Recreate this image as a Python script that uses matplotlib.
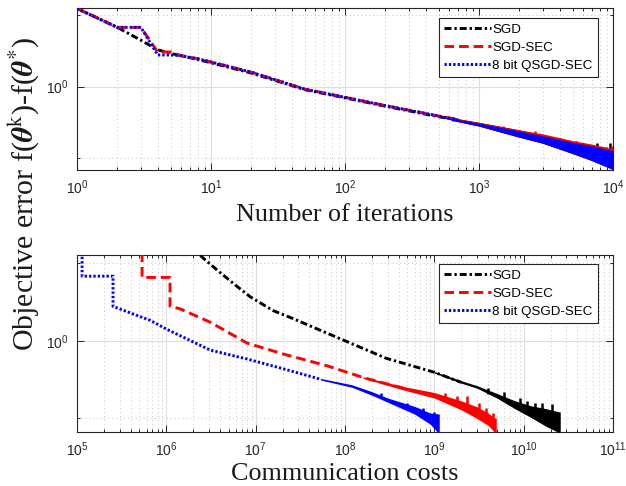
import math
import matplotlib
matplotlib.use("Agg")
import matplotlib.pyplot as plt
from matplotlib.ticker import FixedLocator, FuncFormatter, NullFormatter
from matplotlib.lines import Line2D

plt.rcParams['font.family'] = ['Liberation Sans', 'DejaVu Sans']
plt.rcParams['mathtext.fontset'] = 'custom'
plt.rcParams['mathtext.rm'] = 'Liberation Sans'
plt.rcParams['mathtext.it'] = 'Liberation Sans:italic'
plt.rcParams['mathtext.bf'] = 'Liberation Sans:bold'

# ---------------- data: top panel (iterations) ----------------
labels = ["SGD", "SGD-SEC", "8 bit QSGD-SEC"]
colors = ["black", "red", "blue"]

it_sgd = [1, 2, 3, 4, 5, 6, 8, 10, 20, 50, 100, 200, 500, 700]
val_sgd = [2.14, 1.78, 1.57, 1.43, 1.38, 1.35, 1.30, 1.26, 1.14, 0.97, 0.895, 0.825, 0.745, 0.72]
it_sec = [1, 2, 3, 4, 5, 6, 8, 10, 20, 50, 100, 200, 500, 700]
val_sec = [2.14, 1.78, 1.78, 1.40, 1.40, 1.35, 1.31, 1.27, 1.15, 0.975, 0.90, 0.83, 0.75, 0.725]
it_q = [1, 2, 3, 4, 5, 6, 8, 10, 20, 50, 100, 200, 500, 700]
val_q = [2.14, 1.78, 1.78, 1.36, 1.36, 1.35, 1.31, 1.27, 1.15, 0.975, 0.90, 0.83, 0.75, 0.72]

band_it = [500, 700, 1000, 2000, 3000, 5000, 7000, 10000]
band_lo = [0.745, 0.71, 0.68, 0.61, 0.575, 0.52, 0.485, 0.445]
sgd_hi = [0.755, 0.73, 0.705, 0.655, 0.625, 0.585, 0.565, 0.54]
sec_hi = [0.755, 0.73, 0.705, 0.655, 0.63, 0.59, 0.57, 0.545]
q_hi = [0.752, 0.725, 0.70, 0.648, 0.618, 0.58, 0.56, 0.535]

tspk_it_sgd = [640, 1900, 3000, 4400, 5300, 6400, 7600, 8800, 9500]
tspk_lo_sgd = [0.715, 0.64, 0.61, 0.57, 0.565, 0.55, 0.545, 0.53, 0.53]
tspk_hi_sgd = [0.74, 0.65, 0.625, 0.585, 0.585, 0.565, 0.575, 0.555, 0.575]
tspk_it_sec = [1500, 2600, 4000, 6000, 9800]
tspk_lo_sec = [0.66, 0.62, 0.585, 0.555, 0.53]
tspk_hi_sec = [0.68, 0.645, 0.605, 0.575, 0.56]

# ---------------- data: bottom panel (communication costs) ----------------
c_sgd = [2.4e6, 3.7e6, 5.6e6, 8.7e6, 1.56e7, 2.6e7, 6.3e7, 1e8, 2.9e8, 1e9, 2.0e9]
v_sgd = [2.14, 1.88, 1.67, 1.48, 1.31, 1.22, 1.07, 1.0, 0.855, 0.755, 0.69]
cb_sgd = [1e9, 2e9, 3e9, 5e9, 8e9, 1.2e10, 1.8e10, 2.5e10]
lo_sgd = [0.75, 0.685, 0.655, 0.60, 0.545, 0.505, 0.465, 0.44]
hi_sgd = [0.76, 0.70, 0.67, 0.625, 0.585, 0.56, 0.545, 0.53]
bspk_c_sgd = [4e9, 6e9, 9e9, 1.1e10, 1.35e10, 1.6e10, 2.1e10]
bspk_lo_sgd = [0.62, 0.60, 0.57, 0.55, 0.54, 0.53, 0.52]
bspk_hi_sgd = [0.655, 0.635, 0.60, 0.585, 0.575, 0.575, 0.57]

c_sec = [5.35e5, 5.35e5, 1.1e6, 1.1e6, 1.42e6, 3.1e6, 8e6, 2e7, 6.3e7, 1.6e8, 4.5e8]
v_sec = [2.2, 1.76, 1.76, 1.36, 1.33, 1.18, 0.98, 0.89, 0.80, 0.72, 0.655]
cb_sec = [1.6e8, 4.5e8, 1e9, 2e9, 3e9, 4e9, 4.8e9]
lo_sec = [0.715, 0.645, 0.60, 0.54, 0.50, 0.47, 0.44]
hi_sec = [0.725, 0.665, 0.63, 0.585, 0.555, 0.525, 0.50]
bspk_c_sec = [1.3e9, 1.8e9, 2.3e9, 3.2e9, 3.8e9, 4.5e9]
bspk_lo_sec = [0.60, 0.58, 0.57, 0.545, 0.52, 0.50]
bspk_hi_sec = [0.625, 0.61, 0.61, 0.575, 0.55, 0.525]

c_q = [1.14e5, 1.14e5, 2.53e5, 2.53e5, 4e5, 6.6e5, 1e6, 3.1e6, 8e6, 2e7, 5.3e7]
v_q = [2.2, 1.78, 1.78, 1.36, 1.28, 1.20, 1.11, 0.92, 0.85, 0.78, 0.71]
cb_q = [5.3e7, 1.2e8, 2e8, 3e8, 6e8, 9e8, 1.1e9]
lo_q = [0.705, 0.66, 0.615, 0.578, 0.52, 0.475, 0.44]
hi_q = [0.715, 0.675, 0.635, 0.60, 0.557, 0.525, 0.52]
bspk_c_q = [2.5e8, 5e8, 7.4e8, 1.0e9]
bspk_lo_q = [0.60, 0.55, 0.525, 0.50]
bspk_hi_q = [0.625, 0.575, 0.55, 0.53]

y_lim = (0.443, 2.15)
xticks_top = [1, 10, 100, 1000, 10000]
xticks_bot = [1e5, 1e6, 1e7, 1e8, 1e9, 1e10, 1e11]

# ---------------- style ----------------
LW = 2.1
SLW = 1.8
styles = [(0, (2.4, 1.0, 0.8, 1.0)), (0, (3.3, 1.7)), (0, (0.8, 0.7))]
AXC = '#262626'

fig = plt.figure(figsize=(6.26, 4.86), dpi=100)
ax1 = fig.add_axes([77/626, 1-170/486, 536/626, 162/486])
ax2 = fig.add_axes([77/626, 1-432/486, 536/626, 177/486])


def fmt(v, pos):
    e = int(round(math.log10(v)))
    return r'$\mathregular{10^{%d}}$' % e


def setup(ax, xticks):
    ax.set_xscale('log')
    ax.set_yscale('log')
    ax.set_xlim(xticks[0], xticks[-1])
    ax.set_ylim(*y_lim)
    ax.yaxis.set_major_locator(FixedLocator([1.0]))
    ax.yaxis.set_minor_locator(FixedLocator([0.5, 2.0]))
    ax.yaxis.set_major_formatter(FuncFormatter(fmt))
    ax.yaxis.set_minor_formatter(NullFormatter())
    ax.xaxis.set_major_locator(FixedLocator(xticks))
    minors = [m * 10**e for e in range(-1, 12) for m in range(2, 10)]
    minors = [m for m in minors if xticks[0] < m < xticks[-1]]
    ax.xaxis.set_minor_locator(FixedLocator(minors))
    ax.xaxis.set_major_formatter(FuncFormatter(fmt))
    ax.xaxis.set_minor_formatter(NullFormatter())
    ax.set_axisbelow(True)
    ax.grid(True, which='major', color='#dedede', lw=0.8, ls='-')
    ax.grid(True, which='minor', color='#c4c4c4', lw=0.7, ls=(0, (1, 3)))
    ax.tick_params(which='both', direction='in', top=True, right=True,
                   color=AXC, labelcolor=AXC, labelsize=10, width=0.7)
    ax.tick_params(which='major', length=5, pad=6)
    ax.tick_params(which='minor', length=2.5)
    for s in ax.spines.values():
        s.set_color(AXC)
        s.set_linewidth(0.8)


setup(ax1, xticks_top)
setup(ax2, xticks_bot)

# ---------------- top panel ----------------
mains_top = [(it_sgd, val_sgd), (it_sec, val_sec), (it_q, val_q)]
his_top = [sgd_hi, sec_hi, q_hi]
spikes_top = [(tspk_it_sgd, tspk_lo_sgd, tspk_hi_sgd),
              (tspk_it_sec, tspk_lo_sec, tspk_hi_sec), ([], [], [])]
for (x, y), hi, (sx, slo, shi), c, ls in zip(mains_top, his_top, spikes_top, colors, styles):
    ax1.fill_between(band_it, band_lo, hi, color=c, lw=0, zorder=3)
    ax1.plot(x, y, color=c, lw=LW, ls=ls, zorder=3)
    if sx:
        ax1.vlines(sx, slo, shi, color=c, lw=SLW, zorder=3)

# ---------------- bottom panel ----------------
mains_bot = [(c_sgd, v_sgd), (c_sec, v_sec), (c_q, v_q)]
bands_bot = [(cb_sgd, lo_sgd, hi_sgd), (cb_sec, lo_sec, hi_sec), (cb_q, lo_q, hi_q)]
spikes_bot = [(bspk_c_sgd, bspk_lo_sgd, bspk_hi_sgd), (bspk_c_sec, bspk_lo_sec, bspk_hi_sec),
              (bspk_c_q, bspk_lo_q, bspk_hi_q)]
for (x, y), (bx, blo, bhi), (sx, slo, shi), c, ls in zip(mains_bot, bands_bot, spikes_bot, colors, styles):
    ax2.plot(x, y, color=c, lw=LW, ls=ls, zorder=3)
    ax2.fill_between(bx, blo, bhi, color=c, lw=0, zorder=3)
    ax2.vlines(sx, slo, shi, color=c, lw=SLW, zorder=3)
    ax2.vlines([bx[-1]], [blo[-1]], [bhi[-1]], color=c, lw=SLW, zorder=3)

# ---------------- legends ----------------
handles = [Line2D([], [], color=c, lw=LW, ls=ls) for c, ls in zip(colors, styles)]
for ax, top in ((ax1, 1 - 10/162), (ax2, 1 - 9/177)):
    leg = ax.legend(handles, labels, loc='upper right', bbox_to_anchor=(521/536, top),
                    borderaxespad=0, fancybox=False, framealpha=1, edgecolor=AXC,
                    fontsize=9.6, handlelength=3.5, handletextpad=0.1,
                    labelspacing=0.42, borderpad=0.4)
    leg.get_frame().set_linewidth(0.8)

# ---------------- labels ----------------
serif = ['Liberation Serif', 'DejaVu Serif']
ax1.set_xlabel('Number of iterations', fontsize=18.8, family=serif, labelpad=5, color='#1a1a1a')
ax2.set_xlabel('Communication costs', fontsize=18.8, family=serif, labelpad=3, color='#1a1a1a')
fig.text(24/626, 1 - 194/486,
         r'Objective error f($\boldsymbol{\theta}^{\rm k}$)-f($\boldsymbol{\theta}^{*}$)',
         rotation=90, ha='center', va='center', fontsize=21.5, family=serif,
         math_fontfamily='stix', color='#1a1a1a')

fig.savefig('out.png', dpi=100)
